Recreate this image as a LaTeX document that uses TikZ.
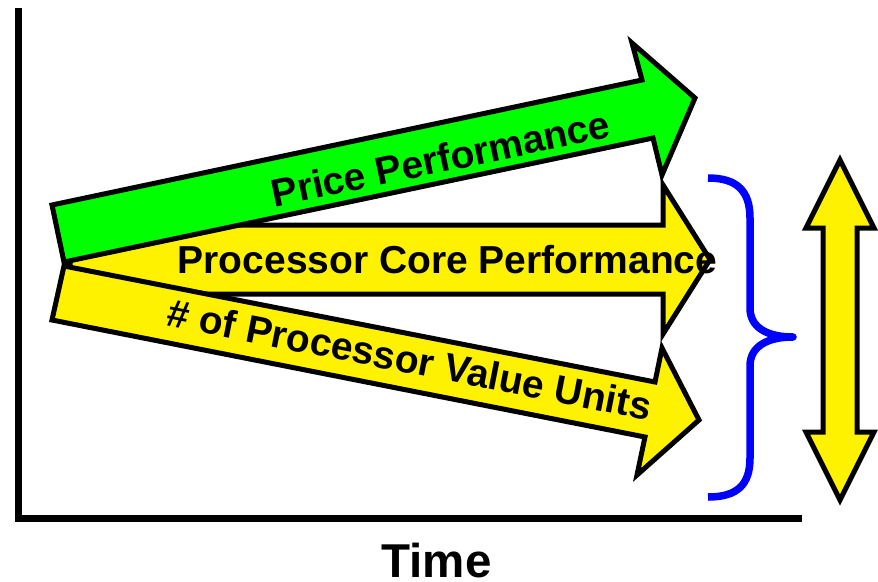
\documentclass[tikz,border=0pt]{standalone}
\usepackage{fontspec}
\setmainfont{Liberation Sans}
\begin{document}
\begin{tikzpicture}[x=1pt,y=-1pt,
  bigarrow/.style={draw=black, line width=5pt, line join=miter},
  lbl/.style={font=\fontsize{39}{46}\selectfont\bfseries, inner sep=0pt}]
\useasboundingbox (0,0) rectangle (878,581);
% axes
\draw[line width=7pt, line join=miter] (18,8) -- (18,518) -- (802,518);
% middle arrow (drawn first, partly covered)
\filldraw[bigarrow, fill=yellow] (70,225) -- (663,225) -- (663,185) -- (710,259.5) -- (663,334) -- (663,294) -- (70,294) -- cycle;
% green arrow
\filldraw[bigarrow, fill=green] (52,205) -- (642,80) -- (632,43) -- (695,98) -- (662,175) -- (653,138) -- (64,262) -- cycle;
% bottom arrow
\filldraw[bigarrow, fill=yellow] (64,266) -- (655,382) -- (662,348) -- (699,420) -- (637,475) -- (645,437) -- (52,320) -- cycle;
% labels
\node[lbl, anchor=base, rotate=11.8] (price) at (443.5,172) {Price Performance};
\node[lbl, anchor=base] (core) at (447.5,273) {Processor Core Performance};
\node[lbl, anchor=base, rotate=-11.1] (units) at (407,373) {\# of Processor Value Units};
\node[font=\fontsize{47.5}{57}\selectfont\bfseries, anchor=base, inner sep=0pt] (time) at (436.5,577) {Time};
% brace
\draw[blue, line width=7.5pt, line join=round] (708,178) .. controls (738,178) and (750,192) .. (750,218) -- (750,308) .. controls (750,328) and (768,337) .. (793,337) .. controls (768,337) and (750,346) .. (750,366) -- (750,458) .. controls (750,484) and (738,497) .. (708,497);
% double arrow
\filldraw[bigarrow, fill=yellow] (840,160) -- (874,228) -- (857,228) -- (857,432) -- (874,432) -- (840,500) -- (806,432) -- (823,432) -- (823,228) -- (806,228) -- cycle;
\end{tikzpicture}
\end{document}
